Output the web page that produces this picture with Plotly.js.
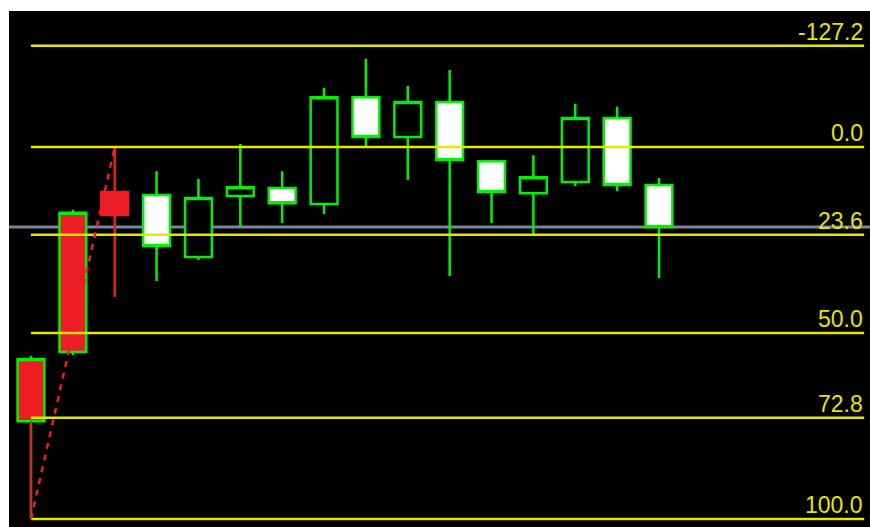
<!DOCTYPE html>
<html><head><meta charset="utf-8">
<script src="https://cdn.plot.ly/plotly-3.0.1.min.js"></script>
<style>html,body{margin:0;padding:0;background:#fff;}#chart{width:870px;height:527px;}</style>
</head><body><div id="chart"></div>
<script>
// Candle data (price units: fib 100% low = 0, fib 0% high = 100)
const barIndex = [0,1,2,3,4,5,6,7,8,9,10,11,12,13,14,15];
const openP  = [26.3, 44.9, 81.7, 87.1, 70.4, 86.8, 89.0, 84.7, 113.4, 102.7, 112.1, 96.2, 87.6, 90.6, 107.8, 89.8];
const highP  = [43.8, 83.1, 100.0, 93.5, 91.4, 100.8, 93.5, 115.9, 123.7, 116.4, 120.7, 96.2, 97.8, 111.6, 110.8, 91.7];
const lowP   = [0.0, 44.1, 59.7, 64.0, 69.6, 78.5, 79.6, 82.0, 100.0, 91.1, 65.3, 79.6, 76.6, 89.5, 88.2, 64.8];
const closeP = [43.0, 82.3, 87.9, 73.4, 86.3, 89.2, 84.9, 113.4, 102.7, 112.1, 96.5, 87.9, 91.9, 107.8, 89.8, 78.5];

// Fibonacci levels (position as retracement %) and their printed labels
const fibLevels = [-27.2, 0, 23.6, 50, 72.8, 100];
const fibLabels = ["-127.2", "0.0", "23.6", "50.0", "72.8", "100.0"];
const fibLowBar = 0, fibHighBar = 2;

// candle groups by highlight style
const groupRedGreen = [0, 1];
const groupRedRed = [2];
const groupNormal = [3,4,5,6,7,8,9,10,11,12,13,14,15];

const GREEN = '#00f000', RED = '#ee1c24', YEL = '#e6e600';
const fibEnd = 19.9;

function pick(arr, idx){ return idx.map(i => arr[i]); }
function candle(idx, incFill, decFill, lineCol){
  return {
    type: 'candlestick',
    x: pick(barIndex, idx), open: pick(openP, idx), high: pick(highP, idx),
    low: pick(lowP, idx), close: pick(closeP, idx),
    increasing: {fillcolor: incFill, line: {color: lineCol, width: 2.5}},
    decreasing: {fillcolor: decFill, line: {color: lineCol, width: 2.5}},
    whiskerwidth: 0, hoverinfo: 'skip', showlegend: false
  };
}

const fibHi = highP[fibHighBar], fibLo = lowP[fibLowBar];
const fibPrice = fibLevels.map(l => fibHi - (fibHi - fibLo) * l / 100);

const fx = [], fy = [];
fibPrice.forEach(p => { fx.push(barIndex[fibLowBar], fibEnd, null); fy.push(p, p, null); });

const traces = [
  {type: 'scatter', mode: 'lines', x: fx, y: fy, line: {color: YEL, width: 2.5}, hoverinfo: 'skip', showlegend: false},
  candle(groupNormal, '#000000', '#ffffff', GREEN),
  candle(groupRedGreen, RED, RED, GREEN),
  candle(groupRedRed, RED, RED, RED),
  // lower wick of first candle shown in red
  {type: 'scatter', mode: 'lines', x: [barIndex[0], barIndex[0]],
   y: [lowP[0], Math.min(openP[0], closeP[0])], line: {color: RED, width: 2}, hoverinfo: 'skip', showlegend: false},
  // fibonacci trend line (dashed)
  {type: 'scatter', mode: 'lines', x: [barIndex[fibLowBar], barIndex[fibHighBar]], y: [fibLo, fibHi],
   line: {color: RED, width: 2.5, dash: '6px,6px'}, hoverinfo: 'skip', showlegend: false}
];

const annotations = fibPrice.map((p, i) => ({
  x: fibEnd, y: p, xref: 'x', yref: 'y', xanchor: 'right', yanchor: 'bottom',
  text: fibLabels[i], showarrow: false, borderpad: 0,
  font: {family: 'Liberation Sans, Arial, sans-serif', size: 23, color: YEL}
}));

const layout = {
  width: 870, height: 527,
  margin: {l: 9, r: 0, t: 11, b: 0, pad: 0},
  paper_bgcolor: '#ffffff', plot_bgcolor: '#000000',
  showlegend: false, boxgap: 0.36, boxgroupgap: 0, boxmode: 'overlay',
  xaxis: {range: [-0.525, 20.04], visible: false, showgrid: false, zeroline: false, rangeslider: {visible: false}, fixedrange: true},
  yaxis: {range: [-2.15, 136.56], visible: false, showgrid: false, zeroline: false, fixedrange: true},
  shapes: [{type: 'line', xref: 'paper', yref: 'y', x0: 0, x1: 1,
            y0: closeP[closeP.length-1], y1: closeP[closeP.length-1],
            line: {color: '#7a8896', width: 3}, layer: 'below'}],
  annotations: annotations
};

Plotly.newPlot('chart', traces, layout, {displayModeBar: false, staticPlot: true});
</script></body></html>
